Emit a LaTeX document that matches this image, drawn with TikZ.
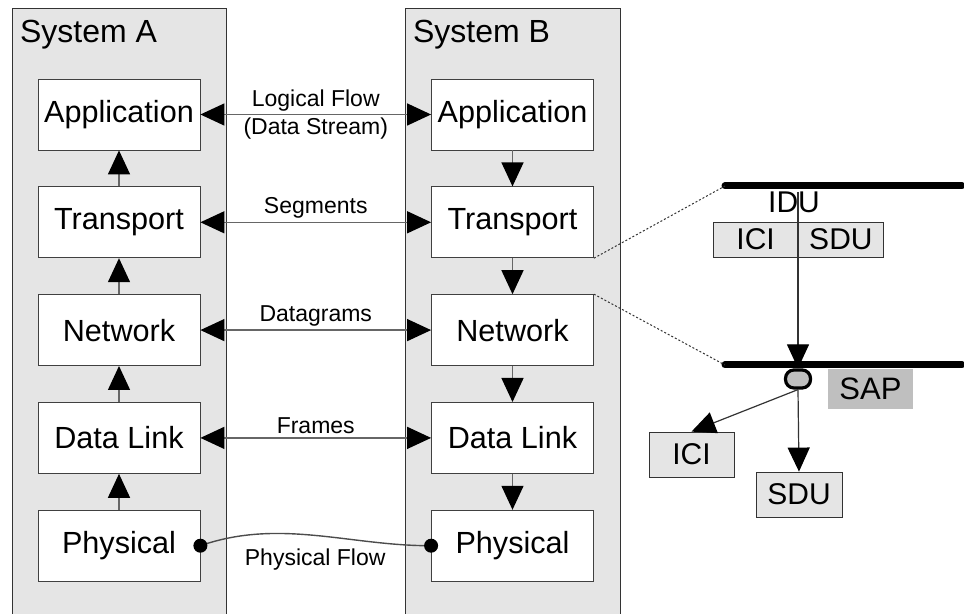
\documentclass[tikz,border=0pt]{standalone}
\usepackage{fontspec}
\setmainfont{Liberation Sans}
\usetikzlibrary{arrows.meta,positioning}

\begin{document}
\begin{tikzpicture}[x=0.5pt,y=-0.5pt,>={Triangle[length=12pt,width=11pt,color=black]},
	laybox/.style={draw=black!75, fill=white, minimum width=81pt, minimum height=35.5pt, inner sep=0pt, font=\fontsize{15.3}{18}\selectfont},
	peerflow/.style={<->, draw=black!60, line width=0.7pt},
	stackarrow/.style={->, draw=black!60, line width=0.7pt},
	lbl/.style={font=\fontsize{11.5}{13}\selectfont, inner sep=1.5pt, text=black},
	pdu/.style={draw=black!80, fill=black!10, minimum height=17.5pt, inner sep=0pt, font=\fontsize{15}{18}\selectfont},
	bus/.style={line width=3.5pt, line cap=round}];
	\useasboundingbox (0,0) rectangle (964,614);
	
	% the two systems
	\fill[black!10] (12,8) rectangle (226,614);
	\draw[black!80] (12,614) -- (12,8) -- (226,8) -- (226,614);
	\fill[black!10] (405,8) rectangle (620,614);
	\draw[black!80] (405,614) -- (405,8) -- (620,8) -- (620,614);
	\node[anchor=west, font=\fontsize{16}{19}\selectfont] (sysa) at (13,35) {System A};
	\node[anchor=west, font=\fontsize{16}{19}\selectfont] (sysb) at (406,35) {System B};
	
	\node[laybox] (a1) at (119,114.5) {Application};
	\node[laybox] (a2) [below=18pt of a1] {Transport};
	\node[laybox] (a3) [below=18pt of a2] {Network};
	\node[laybox] (a4) [below=18pt of a3] {Data Link};
	\node[laybox] (a5) [below=18pt of a4] {Physical};
	
	\node[laybox] (b1) at (512.5,114.5) {Application};
	\node[laybox] (b2) [below=18pt of b1] {Transport};
	\node[laybox] (b3) [below=18pt of b2] {Network};
	\node[laybox] (b4) [below=18pt of b3] {Data Link};
	\node[laybox] (b5) [below=18pt of b4] {Physical};
	
	\path[stackarrow]
	(a5) edge (a4)
	(a4) edge (a3)
	(a3) edge (a2)
	(a2) edge (a1)
	(b1) edge (b2)
	(b2) edge (b3)
	(b3) edge (b4)
	(b4) edge (b5);
	
	\path[peerflow]
	(a1) edge node[lbl, above] {Logical Flow} node[lbl, below] {(Data Stream)} (b1)
	(a2) edge node[lbl, above] {Segments} (b2)
	(a3) edge node[lbl, above] {Datagrams} (b3)
	(a4) edge node[lbl, above] {Frames} (b4);
	
	\draw[black!70, line width=0.7pt] (a5.east) .. controls (280,518) and (350,546) .. (b5.west)
		node[lbl, pos=0.5, below=5pt] {Physical Flow};
	\fill (a5.east) circle (3.5pt);
	\fill (b5.west) circle (3.5pt);
	
	% service access point
	\coordinate (t1) at (725,186);
	\coordinate (t2) at (962,186);
	\coordinate (s1) at (725,365);
	\coordinate (s2) at (962,365);
	\draw[bus] (t1) -- (t2);
	\draw[bus] (s1) -- (s2);
	\draw[black!80, dash pattern=on 1pt off 1pt, line width=0.5pt] (b2.south east) -- (t1);
	\draw[black!80, dash pattern=on 1pt off 1pt, line width=0.5pt] (b3.north east) -- (s1);
	
	\node[pdu, minimum width=42pt, anchor=east] (ici0) at (798,239.5) {ICI};
	\node[pdu, minimum width=42.5pt, anchor=west] (sdu0) at (798,239.5) {SDU};
	\node[font=\fontsize{15}{18}\selectfont, inner sep=0pt] (idu) at (794,202) {IDU};
	\coordinate (idutop) at (798,192);
	
	\node[draw, line width=1.6pt, fill=black!25, minimum width=12.5pt, minimum height=9pt, inner sep=0pt, rounded corners=4.2pt] (sap) at (798,379) {};
	\node[fill=black!25, minimum width=42.5pt, minimum height=20pt, inner sep=0pt, font=\fontsize{15.5}{18}\selectfont] (saplbl) at (870.5,389) {SAP};
	
	\node[pdu, minimum width=42.5pt, minimum height=22.5pt] (ici) at (691.5,454.5) {ICI};
	\node[pdu, minimum width=43pt, minimum height=22.5pt] (sdu) at (799,494.5) {SDU};
	
	\draw[->, black!80, line width=0.6pt] (idutop) -- (sap.north);
	\draw[->, black!80, line width=0.6pt] (sap.south) -- (ici.north);
	\draw[->, black!80, line width=0.6pt] (sap.south) -- (sdu.north);
\end{tikzpicture}
\end{document}
